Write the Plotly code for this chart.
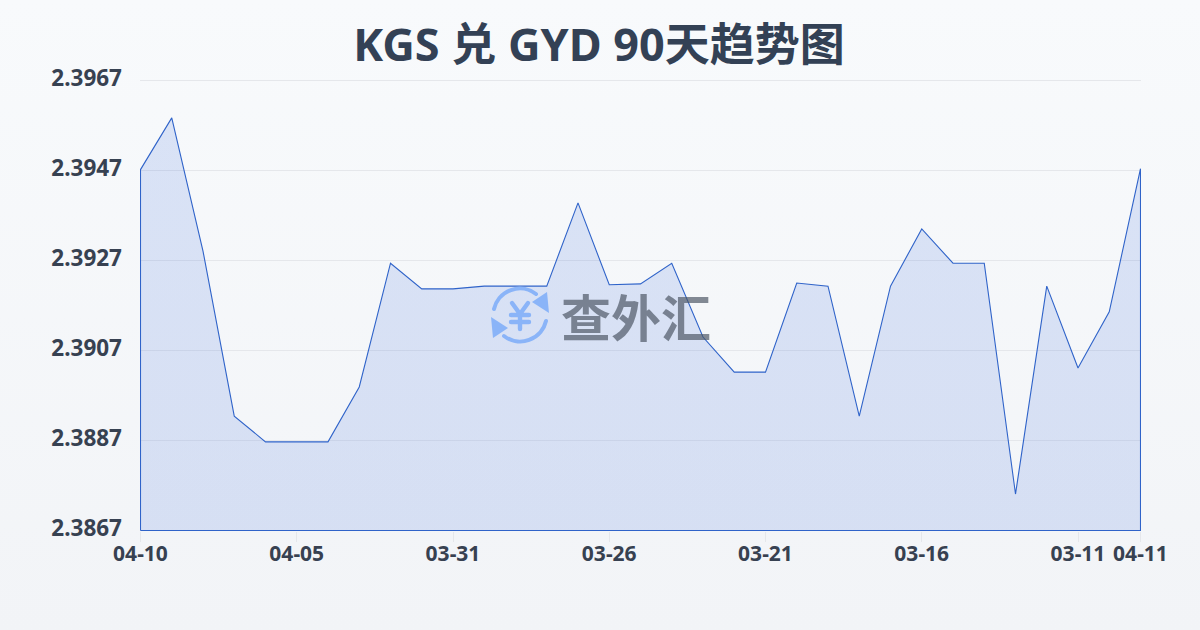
import base64
import plotly.graph_objects as go

title = "KGS 兑 GYD 90天趋势图"
watermark = "查外汇"
rate_values = [2.39472, 2.39587, 2.39291, 2.38924, 2.38867, 2.38867, 2.38867, 2.38989,
               2.39264, 2.39207, 2.39207, 2.39213, 2.39213, 2.39213, 2.39398, 2.39216,
               2.39218, 2.39264, 2.39100, 2.39022, 2.39022, 2.39220, 2.39213, 2.38924,
               2.39213, 2.39340, 2.39264, 2.39264, 2.38751, 2.39213, 2.39031, 2.39156, 2.39474]
point_index = list(range(len(rate_values)))
x_tick_index = [0, 5, 10, 15, 20, 25, 30, 32]
x_tick_labels = ["04-10", "04-05", "03-31", "03-26", "03-21", "03-16", "03-11", "04-11"]
y_ticks = [2.3867, 2.3887, 2.3907, 2.3927, 2.3947, 2.3967]
y_tick_labels = ["2.3867", "2.3887", "2.3907", "2.3927", "2.3947", "2.3967"]
y_base = y_ticks[0]

TEXT = "#374151"
FONT = "Noto Sans, Noto Sans CJK SC, sans-serif"
L, R, T, B = 140, 59, 80, 99
PW, PH = 1200 - L - R, 630 - T - B
# half-pixel padding so the outline falls on whole device pixels
x_pad = 0.5 * (point_index[-1] - point_index[0]) / 1000
y_pad = 0.5 * (y_ticks[-1] - y_ticks[0]) / 450


def data_uri(svg):
    return "data:image/svg+xml;base64," + base64.b64encode(svg.encode()).decode()


bg_svg = ('<svg xmlns="http://www.w3.org/2000/svg" width="1200" height="630" preserveAspectRatio="none">'
          '<defs><linearGradient id="g" x1="0" y1="0" x2="0" y2="1">'
          '<stop offset="0" stop-color="#f8fafc"/><stop offset="1" stop-color="#f2f4f7"/>'
          '</linearGradient></defs><rect width="1200" height="630" fill="url(#g)"/></svg>')

icon_svg = ('<svg xmlns="http://www.w3.org/2000/svg" width="60" height="60" viewBox="0 0 60 60">'
            '<g fill="none" stroke="#8ab4f8" stroke-width="4" stroke-linecap="round">'
            '<path d="M4 24 A26.5 26.5 0 0 1 46 9"/>'
            '<path d="M56 36 A26.5 26.5 0 0 1 14 51"/>'
            '<path d="M22 18 L30 29 L38 18 M30 29 V44 M21 30 H39 M21 37 H39" stroke-width="4.4"/>'
            '</g><g fill="#8ab4f8">'
            '<path d="M59 28 L42 17 L57 7 Z"/><path d="M1 32 L18 43 L3 53 Z"/></g></svg>')

fig = go.Figure()
fig.add_trace(go.Scatter(
    x=[point_index[0]] + point_index + [point_index[-1], point_index[0]],
    y=[y_base] + rate_values + [y_base, y_base],
    mode="lines",
    line=dict(color="#2f63c9", width=1.1),
    fill="toself",
    fillgradient=dict(type="vertical",
                      colorscale=[[0, "rgba(37,90,215,0.14)"], [1, "rgba(37,90,215,0.14)"]]),
    cliponaxis=False,
    hoverinfo="skip",
    showlegend=False,
))

fig.update_layout(
    width=1200, height=630,
    margin=dict(l=L, r=R, t=T, b=B),
    paper_bgcolor="rgba(0,0,0,0)",
    plot_bgcolor="rgba(0,0,0,0)",
    font=dict(family=FONT, color=TEXT),
    title=dict(text=f"<b>{title}</b>", x=0.4992, xanchor="center", xref="container",
               y=1 - 45 / 630, yanchor="middle",
               font=dict(size=45, color="#334155", family=FONT)),
    xaxis=dict(range=[point_index[0] - x_pad, point_index[-1] + x_pad], tickmode="array",
               tickvals=x_tick_index, ticktext=[f"<b>{t}</b>" for t in x_tick_labels],
               ticks="outside", ticklen=10, tickcolor="#e5e7eb", tickwidth=1,
               ticklabelstandoff=-6,
               showgrid=False, zeroline=False, showline=False,
               tickfont=dict(size=21, color=TEXT), tickangle=0),
    yaxis=dict(range=[y_ticks[0] - y_pad, y_ticks[-1] + y_pad], tickmode="array",
               tickvals=y_ticks, ticktext=[f"<b>{t}</b>" for t in y_tick_labels],
               gridcolor="#e5e7eb", gridwidth=1, zeroline=False, showline=False,
               ticks="", ticklabelstandoff=17, ticklabelshift=-2,
               tickfont=dict(size=22.5, color=TEXT)),
    shapes=[dict(type="line", xref="paper", x0=0, x1=1, yref="y", y0=y_ticks[-1], y1=y_ticks[-1],
                 line=dict(color="#e5e7eb", width=1), layer="below")],
    images=[
        dict(source=data_uri(bg_svg), xref="paper", yref="paper", x=-L / PW, y=1 + T / PH,
             sizex=1200 / PW, sizey=630 / PH, sizing="stretch", xanchor="left", yanchor="top",
             layer="below"),
        dict(source=data_uri(icon_svg), xref="paper", yref="paper", x=(490 - L) / PW, y=1 - (285 - T) / PH,
             sizex=60 / PW, sizey=60 / PH, sizing="stretch", xanchor="left", yanchor="top",
             layer="above"),
    ],
    annotations=[dict(text=f"<b>{watermark}</b>", xref="paper", yref="paper",
                      x=(636 - L) / PW, y=1 - (315 - T) / PH, xanchor="center", yanchor="middle",
                      showarrow=False, opacity=0.68,
                      font=dict(size=50, color="#4b5563", family="Noto Sans CJK SC"))],
)

fig.write_html("out.html", config={"displayModeBar": False},
               post_script="document.body.style.margin='0';")
